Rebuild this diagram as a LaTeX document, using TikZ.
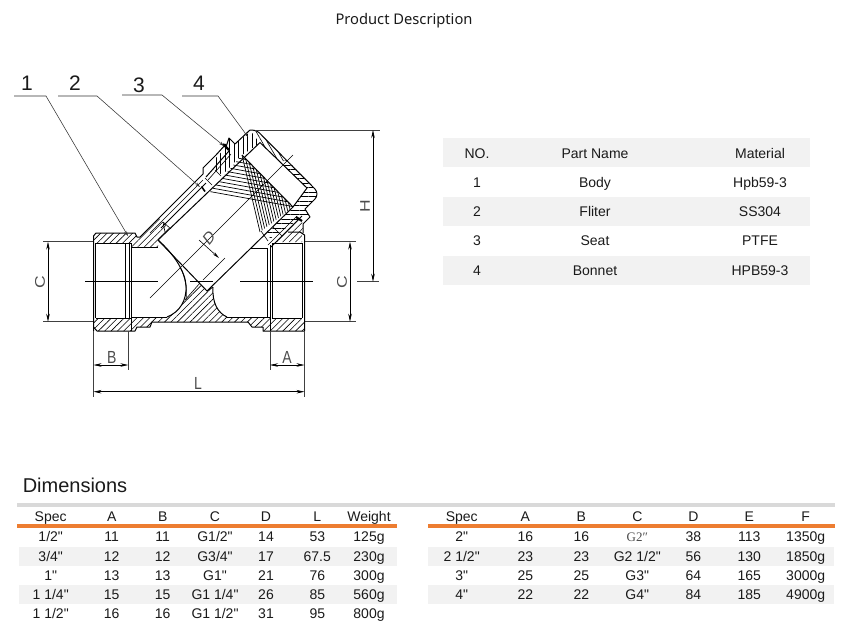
\documentclass[tikz,border=0pt]{standalone}
\usepackage{fontspec}
\newfontfamily\armfont{Liberation Sans}
\newfontfamily\titlefont{Noto Sans}
\newfontfamily\oddfont{Liberation Serif}
\usetikzlibrary{arrows.meta,patterns.meta,calc}
\definecolor{bandgrey}{HTML}{F2F2F2}
\definecolor{bargrey}{HTML}{D9D9D9}
\definecolor{barorange}{HTML}{ED7D31}
\definecolor{inktext}{HTML}{1A1A1A}
\tikzset{
    cell/.style={anchor=base,inner sep=0pt,text=inktext,font=\armfont\fontsize{14}{14}\selectfont},
    numlabel/.style={inner sep=0pt,text=inktext,font=\armfont\fontsize{21}{21}\selectfont},
    dimlabel/.style={inner sep=0pt,text=black!70,xscale=.8,font=\armfont\fontsize{17.5}{17.5}\selectfont},
    outline/.style={line width=1pt,line join=round},
    thinline/.style={line width=.6pt},
    meshline/.style={line width=.7pt},
    extline/.style={line width=.6pt,draw=black!75},
    leaderline/.style={line width=.55pt,draw=black!80,-{Stealth[length=5pt,width=3pt]}},
    dimline/.style={line width=.6pt,{Stealth[length=8pt,width=3.5pt]}-{Stealth[length=8pt,width=3.5pt]}},
    hatchne/.style={pattern={Lines[angle=45,distance=4.5pt,line width=.6pt]}},
    hatchup/.style={pattern={Lines[angle=90,distance=4.5pt,line width=.6pt]}},
    hatchflat/.style={pattern={Lines[angle=0,distance=4.5pt,line width=.6pt]}},
    hatchsteep/.style={pattern={Lines[angle=-60,distance=4.5pt,line width=.6pt]}},
}
\begin{document}
\begin{tikzpicture}[x=1pt,y=-1pt]
    \useasboundingbox (0,0) rectangle (850,633);

    % title and part numbers
    \node(title) at (404,21) [inner sep=0pt,text=inktext,font=\titlefont\fontsize{14.7}{14.7}\selectfont] {Product Description};
    \node(n1) at (27,83) [numlabel] {1};
    \node(n2) at (75,83) [numlabel] {2};
    \node(n3) at (139,85) [numlabel] {3};
    \node(n4) at (199,83) [numlabel] {4};

    % filter corners
    \coordinate (fa) at (158,240);
    \coordinate (fb) at (242,155);
    \coordinate (fc) at (293,207);
    \coordinate (fd) at (207,291);
    \coordinate (fp) at (210,192);
    \coordinate (fq) at (260,232);

    % section hatching
    \path[hatchne] (95,243) -- (93.5,236) -- (96,233) -- (135,233) -- (137,237) -- (140,237) -- (159,218) -- (170,229) -- (fa) -- (158,247) -- (131,247) -- (131,243) -- cycle;
    \path[hatchne] (95,318) -- (131,318) -- (131,317) -- (167,317) .. controls (175,314) and (181,308) .. (185,300) -- (200,283) -- (fd) -- (213,287) .. controls (212,303) and (218,313) .. (227,317) -- (270,317) -- (270,318) -- (302,318) -- (304,321) -- (304,331) -- (263,331) -- (263,327) -- (252,327) -- (248,322) -- (152,322) -- (150,327) -- (137,327) -- (135,331) -- (97,331) -- (93.5,327) -- (93.5,321) -- cycle;
    \path[hatchne] (276,242) -- (302,242) -- (303,224) -- (300,219) -- cycle;
    \path[hatchup] (fb) -- (260,143) -- (251,131) -- (235,144) -- (229,138) -- (226,147) -- (216,158) -- (216,170) -- (222,175) -- cycle;
    \path[hatchsteep] (252,130) -- (257,131) -- (287,160) -- (280,162) -- (260,143) -- cycle;
    \path[hatchflat] (287,160) -- (317,191) -- (317,197) -- (305,209) -- (310,217) -- (301,218) -- (271,238) -- (265,235) -- (fc) -- (307,188) -- (280,162) -- cycle;

    % filter mesh
    \foreach \t in {0.09,0.18,...,1.0}
        \draw[meshline] ($(fb)!\t!(fp)$) -- ($(fb)!\t!(fc)$);
    \foreach \t in {0,0.07,...,0.95}
        \draw[meshline] ($(fb)!\t!(fc)$) -- ($(fq)!\t!(fc)$);

    % body and bonnet outline
    \draw[outline] (93.5,331) -- (93.5,236) -- (96,233) -- (135,233) -- (137,237) -- (140,237) -- (203,174) -- (203,168) -- (216,155) -- (226,144);
    \draw[outline] (226,147) -- (229,138) -- (235,144) -- (250,130);
    \draw[outline,rounded corners=3pt] (250,130) -- (257,130.5) -- (317,191) -- (317,197) -- (305,209);
    \draw[outline] (305,209) -- (310,217) -- (303,224) -- (303,233);
    \draw[outline] (288,232) -- (300,232) -- (304.5,235) -- (304.5,331) -- (263,331) -- (263,327) -- (252,327) -- (248,322) -- (152,322) -- (150,327) -- (137,327) -- (135,331) -- (97,331) -- (93.5,327);

    % left port
    \draw[outline] (95.7,243) -- (131,243);
    \draw[outline] (95.7,318) -- (131,318);
    \draw[outline] (95.7,243) -- (95.7,318);
    \draw[thinline] (125,243) -- (125,318);
    \draw[outline] (129,243) -- (129,318);
    \draw[thinline] (131,243) -- (131,331);
    \draw[outline] (131,247) -- (158,247);
    \draw[outline] (131,317) -- (167,317);

    % right port
    \draw[outline] (272,243) -- (302,243);
    \draw[outline] (272,318) -- (302,318);
    \draw[outline] (302,243) -- (302,318);
    \draw[outline] (272,243) -- (272,318);
    \draw[outline] (267.7,248) -- (267.7,318);
    \draw[thinline] (270,245) -- (270,331);
    \draw[outline] (250,248) -- (267.7,248);
    \draw[outline] (227,317) -- (270,317);

    % partition
    \draw[outline] (167,317) .. controls (180,312) and (187,300) .. (186,285) .. controls (185,272) and (175,255) .. (fa);
    \draw[thinline] (180,267) .. controls (186,278) and (187,290) .. (186,300);
    \draw[outline] (213,287) .. controls (212,303) and (218,313) .. (227,317);
    \draw[thinline] (185,300) -- (200,283);
    \draw[thinline] (fd) -- (213,287);

    % filter edges
    \draw[outline] (fa) -- (260,142.5) -- (307,188) -- (fc);
    \draw[outline] (fa) -- (fd) -- (fc) -- (fb);

    % branch wall and seat
    \draw[thinline] (150,233) -- (203,180);
    \draw[outline] (161,228) -- (206,183);
    \draw[thinline] (163,222) -- (171,229);
    \draw[thinline] (163,222) -- (165,232);
    \draw[line width=1.6pt] (201.5,186.5) -- (205,191.5);
    \draw[thinline] (205,178) -- (212,185);
    \draw[thinline] (215,170) -- (221,176);
    \draw[outline] (206,177) -- (229,151);
    \draw[thinline] (208,180) -- (231,154);
    \draw[line width=2.2pt] (223,144) -- (229,150);
    \draw[outline] (302,216) -- (271,247);
    \draw[thinline] (297,216) -- (268,245);
    \draw[thinline] (261,231) -- (268,241);
    \draw[thinline] (273,227) -- (282,236);
    \draw[line width=2.2pt] (296,217) -- (302,221);

    % center lines
    \draw[thinline] (85,281.7) -- (158,281.7);
    \draw[thinline] (190,281.7) -- (213,281.7);
    \draw[thinline] (240,281.7) -- (313,281.7);
    \draw[thinline] (293,155) -- (150,298);

    % leaders
    \coordinate (s1) at (14,96);
    \coordinate (k1) at (46,96);
    \coordinate (e1) at (128,236);
    \coordinate (s2) at (58,96);
    \coordinate (k2) at (97,96);
    \coordinate (e2) at (200,187);
    \coordinate (s3) at (122,95);
    \coordinate (k3) at (162,95);
    \coordinate (e3) at (224,146);
    \coordinate (s4) at (182,96);
    \coordinate (k4) at (218,96);
    \coordinate (e4) at (248,137);
    \draw[leaderline] (s1) -- (k1) -- (e1);
    \draw[leaderline] (s2) -- (k2) -- (e2);
    \draw[leaderline] (s3) -- (k3) -- (e3);
    \draw[leaderline] (s4) -- (k4) -- (e4);

    % dimensions
    \draw[extline] (43,241.7) -- (93,241.7);
    \draw[extline] (43,321.7) -- (93,321.7);
    \draw[dimline] (48,241.7) -- (48,321.7);
    \node(cleft) at (40,282) [dimlabel,rotate=90] {C};
    \draw[extline] (305,241.7) -- (355.7,241.7);
    \draw[extline] (305,321.7) -- (355.7,321.7);
    \draw[dimline] (350,241.7) -- (350,321.7);
    \node(cright) at (342,282) [dimlabel,rotate=90] {C};
    \draw[extline] (255,130) -- (380,130);
    \draw[extline] (357,281.7) -- (379,281.7);
    \draw[dimline] (373,130) -- (373,281.7);
    \node(hlab) at (365,206) [dimlabel,rotate=90] {H};
    \draw[extline] (93.5,331) -- (93.5,397);
    \draw[extline] (128.3,331) -- (128.3,370);
    \draw[extline] (270,331) -- (270,370);
    \draw[extline] (304.5,331) -- (304.5,397);
    \draw[dimline] (93.5,365) -- (128.3,365);
    \draw[dimline] (270,365) -- (304.5,365);
    \draw[dimline] (93.5,391.7) -- (304.5,391.7);
    \node(blab) at (111.7,357) [dimlabel] {B};
    \node(alab) at (287,357) [dimlabel] {A};
    \node(llab) at (198,383) [dimlabel] {L};
    \draw[thinline,-{Stealth[length=7pt,width=3pt]}] (199,240) -- (219,258);
    \draw[thinline] (225,258) -- (203,280);
    \node(dlab) at (209,238) [dimlabel,rotate=45] {D};

    % parts table
    \fill[bandgrey] (442.7,138.3) rectangle (810,167.3);
    \fill[bandgrey] (442.7,196.7) rectangle (810,226);
    \fill[bandgrey] (442.7,256) rectangle (810,285);
    \node(ph1) at (477,158) [cell] {NO.};
    \node(ph2) at (595,158) [cell] {Part Name};
    \node(ph3) at (760,158) [cell] {Material};
    \node(p1a) at (477,187) [cell] {1};
    \node(p1b) at (595,187) [cell] {Body};
    \node(p1c) at (760,187) [cell] {Hpb59-3};
    \node(p2a) at (477,216) [cell] {2};
    \node(p2b) at (595,216) [cell] {Fliter};
    \node(p2c) at (760,216) [cell] {SS304};
    \node(p3a) at (477,245) [cell] {3};
    \node(p3b) at (595,245) [cell] {Seat};
    \node(p3c) at (760,245) [cell] {PTFE};
    \node(p4a) at (477,275) [cell] {4};
    \node(p4b) at (595,275) [cell] {Bonnet};
    \node(p4c) at (760,275) [cell] {HPB59-3};

    % dimension tables
    \node(dimtitle) at (75,485) [inner sep=0pt,text=inktext,font=\armfont\fontsize{20}{20}\selectfont] {Dimensions};
    \fill[bargrey] (17,503.3) rectangle (835,507);
    \fill[barorange] (17,524.2) rectangle (396.5,528);
    \fill[barorange] (428.3,524.2) rectangle (835,528);
    \fill[bandgrey] (19.3,546.7) rectangle (396.5,566);
    \fill[bandgrey] (19.3,585) rectangle (396.5,604);
    \fill[bandgrey] (428.3,546.7) rectangle (834,566);
    \fill[bandgrey] (428.3,585) rectangle (834,604);

    \node(lh1) at (50.7,521) [cell] {Spec};
    \node(lh2) at (111.7,521) [cell] {A};
    \node(lh3) at (162.7,521) [cell] {B};
    \node(lh4) at (215,521) [cell] {C};
    \node(lh5) at (266,521) [cell] {D};
    \node(lh6) at (317.3,521) [cell] {L};
    \node(lh7) at (369,521) [cell] {Weight};

    \node(la1) at (50.7,541.5) [cell] {1/2"};
    \node(la2) at (111.7,541.5) [cell] {11};
    \node(la3) at (162.7,541.5) [cell] {11};
    \node(la4) at (215,541.5) [cell] {G1/2"};
    \node(la5) at (266,541.5) [cell] {14};
    \node(la6) at (317.3,541.5) [cell] {53};
    \node(la7) at (369,541.5) [cell] {125g};

    \node(lb1) at (50.7,561) [cell] {3/4"};
    \node(lb2) at (111.7,561) [cell] {12};
    \node(lb3) at (162.7,561) [cell] {12};
    \node(lb4) at (215,561) [cell] {G3/4"};
    \node(lb5) at (266,561) [cell] {17};
    \node(lb6) at (317.3,561) [cell] {67.5};
    \node(lb7) at (369,561) [cell] {230g};

    \node(lc1) at (50.7,580) [cell] {1"};
    \node(lc2) at (111.7,580) [cell] {13};
    \node(lc3) at (162.7,580) [cell] {13};
    \node(lc4) at (215,580) [cell] {G1"};
    \node(lc5) at (266,580) [cell] {21};
    \node(lc6) at (317.3,580) [cell] {76};
    \node(lc7) at (369,580) [cell] {300g};

    \node(ld1) at (50.7,599) [cell] {1 1/4"};
    \node(ld2) at (111.7,599) [cell] {15};
    \node(ld3) at (162.7,599) [cell] {15};
    \node(ld4) at (215,599) [cell] {G1 1/4"};
    \node(ld5) at (266,599) [cell] {26};
    \node(ld6) at (317.3,599) [cell] {85};
    \node(ld7) at (369,599) [cell] {560g};

    \node(le1) at (50.7,618) [cell] {1 1/2"};
    \node(le2) at (111.7,618) [cell] {16};
    \node(le3) at (162.7,618) [cell] {16};
    \node(le4) at (215,618) [cell] {G1 1/2"};
    \node(le5) at (266,618) [cell] {31};
    \node(le6) at (317.3,618) [cell] {95};
    \node(le7) at (369,618) [cell] {800g};

    \node(rh1) at (461.7,521) [cell] {Spec};
    \node(rh2) at (525.3,521) [cell] {A};
    \node(rh3) at (581.3,521) [cell] {B};
    \node(rh4) at (637.3,521) [cell] {C};
    \node(rh5) at (693.3,521) [cell] {D};
    \node(rh6) at (749.3,521) [cell] {E};
    \node(rh7) at (805.7,521) [cell] {F};

    \node(ra1) at (461.7,541.5) [cell] {2"};
    \node(ra2) at (525.3,541.5) [cell] {16};
    \node(ra3) at (581.3,541.5) [cell] {16};
    \node(ra4) at (637.3,541.5) [cell,text=black!70,font=\oddfont\fontsize{13}{13}\selectfont] {G2″};
    \node(ra5) at (693.3,541.5) [cell] {38};
    \node(ra6) at (749.3,541.5) [cell] {113};
    \node(ra7) at (805.7,541.5) [cell] {1350g};

    \node(rb1) at (461.7,561) [cell] {2 1/2"};
    \node(rb2) at (525.3,561) [cell] {23};
    \node(rb3) at (581.3,561) [cell] {23};
    \node(rb4) at (637.3,561) [cell] {G2 1/2"};
    \node(rb5) at (693.3,561) [cell] {56};
    \node(rb6) at (749.3,561) [cell] {130};
    \node(rb7) at (805.7,561) [cell] {1850g};

    \node(rc1) at (461.7,580) [cell] {3"};
    \node(rc2) at (525.3,580) [cell] {25};
    \node(rc3) at (581.3,580) [cell] {25};
    \node(rc4) at (637.3,580) [cell] {G3"};
    \node(rc5) at (693.3,580) [cell] {64};
    \node(rc6) at (749.3,580) [cell] {165};
    \node(rc7) at (805.7,580) [cell] {3000g};

    \node(rd1) at (461.7,599) [cell] {4"};
    \node(rd2) at (525.3,599) [cell] {22};
    \node(rd3) at (581.3,599) [cell] {22};
    \node(rd4) at (637.3,599) [cell] {G4"};
    \node(rd5) at (693.3,599) [cell] {84};
    \node(rd6) at (749.3,599) [cell] {185};
    \node(rd7) at (805.7,599) [cell] {4900g};

\end{tikzpicture}
\end{document}
